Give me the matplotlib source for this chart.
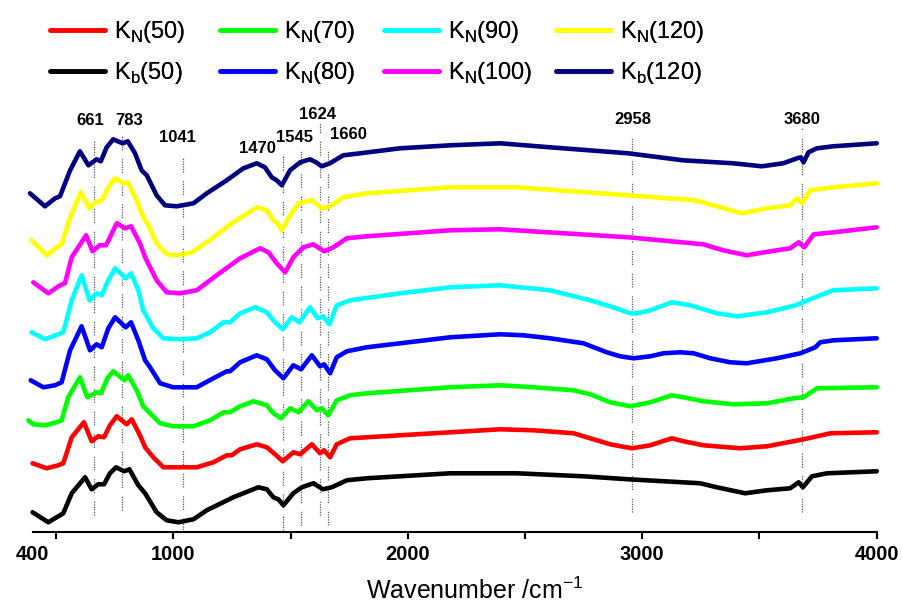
import matplotlib
matplotlib.use("Agg")
import matplotlib.pyplot as plt

plt.rcParams['font.family'] = ['Liberation Sans', 'DejaVu Sans']

# FTIR spectra, already stacked (a.u.), x in cm-1
kb120_x = [389, 453, 496, 517, 560, 602, 638, 673, 691, 716, 744, 784, 806, 837, 865, 887, 929, 965, 1015, 1086,
           1143, 1228, 1299, 1356, 1391, 1420, 1441, 1463, 1498, 1541, 1583, 1609, 1633, 1668, 1725, 1797, 1967, 2181,
           2394, 2607, 2940, 3174, 3388, 3510, 3601, 3660, 3676, 3688, 3709, 3745, 3814, 4000]
kb120_y = [33.9, 32.6, 33.4, 33.6, 36.2, 38.1, 36.7, 37.3, 37.1, 38.5, 39.3, 38.9, 39.1, 37.9, 36.2, 35.7, 33.7, 32.7,
           32.6, 32.9, 33.9, 35.2, 36.4, 36.9, 36.5, 35.5, 35.2, 34.7, 36.2, 37.0, 37.3, 37.0, 36.6, 36.9, 37.7, 37.9,
           38.4, 38.7, 38.9, 38.5, 37.9, 37.2, 36.9, 36.6, 36.9, 37.4, 37.5, 37.0, 38.0, 38.4, 38.6, 38.9]

kn120_x = [396, 460, 503, 524, 560, 606, 642, 666, 695, 716, 749, 787, 806, 844, 872, 894, 929, 972, 1015, 1079,
           1143, 1256, 1356, 1399, 1427, 1444, 1463, 1498, 1534, 1591, 1633, 1669, 1725, 1825, 2181, 2465, 2940, 3226,
           3318, 3425, 3532, 3631, 3660, 3681, 3716, 3814, 4000]
kn120_y = [29.2, 27.7, 28.5, 28.8, 31.5, 34.0, 32.4, 33.0, 33.2, 34.2, 35.4, 34.9, 35.0, 33.2, 31.5, 30.7, 28.9, 27.8,
           27.7, 28.0, 29.0, 31.0, 32.5, 32.2, 31.2, 30.9, 30.2, 31.7, 32.9, 33.2, 32.4, 32.6, 33.5, 33.9, 34.5, 34.5,
           33.7, 33.2, 32.6, 31.9, 32.4, 32.7, 33.4, 32.9, 34.2, 34.5, 34.9]

kn100_x = [403, 467, 517, 538, 567, 628, 656, 685, 713, 730, 759, 794, 820, 858, 880, 929, 972, 1029, 1100, 1185,
           1285, 1370, 1406, 1441, 1477, 1512, 1555, 1597, 1643, 1683, 1740, 1825, 2181, 2394, 2940, 3260, 3345, 3446,
           3546, 3631, 3667, 3691, 3731, 3816, 4000]
kn100_y = [25.0, 23.9, 24.7, 24.9, 27.5, 29.7, 28.1, 28.7, 28.7, 29.5, 30.9, 30.4, 30.6, 28.9, 27.5, 25.2, 24.0, 23.9,
           24.2, 25.7, 27.4, 28.4, 28.0, 26.9, 26.0, 27.5, 28.5, 28.8, 28.1, 28.5, 29.4, 29.6, 30.2, 30.3, 29.5, 28.8,
           28.2, 27.7, 28.1, 28.4, 29.0, 28.5, 29.8, 30.0, 30.5]

kn90_x = [396, 453, 510, 531, 567, 609, 643, 673, 695, 723, 752, 798, 820, 851, 872, 915, 958, 1029, 1100, 1157,
          1214, 1242, 1285, 1349, 1399, 1434, 1467, 1505, 1538, 1583, 1616, 1638, 1666, 1697, 1754, 1967, 2181, 2394,
          2607, 2778, 2863, 2949, 2977, 3034, 3126, 3204, 3318, 3404, 3532, 3654, 3727, 3814, 4000]
kn90_y = [20.0, 19.3, 19.8, 20.0, 23.2, 25.7, 23.2, 23.9, 23.7, 25.2, 26.4, 25.4, 25.9, 24.2, 22.2, 20.4, 19.4, 19.3,
          19.4, 20.0, 21.0, 21.0, 21.9, 22.5, 22.0, 21.0, 20.3, 21.5, 21.0, 22.5, 21.4, 21.6, 20.8, 22.7, 23.2, 23.9,
          24.5, 24.7, 24.2, 23.2, 22.6, 21.9, 21.9, 22.2, 23.0, 22.7, 21.9, 21.6, 22.0, 22.7, 23.4, 24.2, 24.4]

kn80_x = [392, 446, 496, 524, 560, 609, 645, 673, 695, 723, 752, 797, 820, 851, 880, 901, 944, 1000, 1100, 1171,
          1228, 1242, 1285, 1356, 1399, 1434, 1470, 1512, 1545, 1591, 1626, 1643, 1669, 1697, 1740, 1825, 2181, 2394,
          2493, 2607, 2749, 2849, 2906, 2963, 3034, 3090, 3162, 3219, 3290, 3375, 3446, 3574, 3674, 3738, 3759, 3816,
          4000]
kn80_y = [15.2, 14.5, 14.7, 15.0, 18.2, 20.6, 18.2, 18.8, 18.5, 20.4, 21.5, 20.5, 21.0, 19.2, 17.2, 16.5, 14.9, 14.5,
          14.5, 15.4, 16.1, 16.1, 17.0, 17.7, 17.3, 16.2, 15.4, 16.7, 16.3, 17.7, 16.6, 16.8, 15.9, 17.5, 18.1, 18.5,
          19.5, 19.8, 19.7, 19.4, 18.9, 18.0, 17.6, 17.4, 17.6, 17.9, 18.0, 17.9, 17.4, 17.0, 16.9, 17.4, 17.9, 18.5,
          19.0, 19.2, 19.4]

kn70_x = [382, 403, 453, 503, 524, 552, 602, 633, 673, 692, 719, 744, 791, 808, 844, 872, 901, 944, 1000, 1086,
          1157, 1214, 1242, 1285, 1342, 1399, 1427, 1460, 1498, 1534, 1576, 1612, 1633, 1661, 1697, 1754, 1825, 2181,
          2394, 2536, 2707, 2778, 2863, 2949, 3034, 3126, 3176, 3261, 3389, 3532, 3645, 3688, 3745, 4000]
kn70_y = [11.2, 10.8, 10.7, 11.0, 11.2, 13.5, 15.5, 13.5, 14.0, 13.9, 15.4, 16.1, 15.2, 15.7, 14.2, 12.6, 11.9, 10.9,
          10.6, 10.6, 11.2, 12.0, 12.0, 12.6, 13.1, 12.7, 11.9, 11.4, 12.4, 12.0, 13.1, 12.2, 12.4, 11.7, 13.2, 13.7,
          13.9, 14.5, 14.7, 14.5, 14.2, 13.8, 13.0, 12.6, 13.0, 13.7, 13.5, 13.1, 12.8, 12.9, 13.4, 13.5, 14.4, 14.5]

kn50_x = [400, 460, 510, 531, 567, 619, 652, 680, 705, 730, 759, 801, 823, 858, 880, 915, 958, 1015, 1100, 1171,
          1228, 1249, 1285, 1356, 1399, 1434, 1467, 1512, 1541, 1591, 1626, 1643, 1669, 1697, 1754, 1825, 2181, 2394,
          2536, 2707, 2778, 2863, 2956, 3034, 3126, 3176, 3261, 3418, 3532, 3688, 3802, 4000]
kn50_y = [6.9, 6.4, 6.7, 6.9, 9.5, 11.0, 9.1, 9.6, 9.5, 10.7, 11.6, 10.8, 11.3, 9.7, 8.5, 7.5, 6.5, 6.5, 6.5, 7.0,
          7.7, 7.7, 8.3, 8.8, 8.5, 7.8, 7.1, 8.0, 7.8, 8.8, 7.9, 8.2, 7.5, 8.8, 9.4, 9.5, 10.0, 10.3, 10.2, 9.9, 9.4,
          8.8, 8.4, 8.7, 9.4, 9.1, 8.7, 8.4, 8.6, 9.3, 9.9, 10.0]

kb50_x = [400, 467, 517, 531, 567, 624, 652, 680, 705, 730, 756, 791, 813, 851, 880, 929, 972, 1022, 1086, 1143,
          1256, 1363, 1399, 1427, 1448, 1470, 1512, 1548, 1598, 1638, 1676, 1740, 1825, 2181, 2465, 2749, 2941, 3247,
          3318, 3439, 3532, 3631, 3667, 3685, 3724, 3788, 4000]
kb50_y = [2.0, 1.0, 1.7, 1.9, 3.9, 5.5, 4.3, 4.8, 4.8, 5.9, 6.5, 6.1, 6.3, 4.7, 3.9, 2.0, 1.2, 1.0, 1.3, 2.2, 3.5,
          4.5, 4.3, 3.5, 3.3, 2.7, 3.9, 4.5, 4.9, 4.3, 4.5, 5.2, 5.4, 5.9, 5.9, 5.6, 5.3, 4.9, 4.5, 3.9, 4.2, 4.4, 5.0,
          4.5, 5.6, 5.9, 6.1]

# legend columns, each one a (top, bottom) pair
series = [
    (kn50_x, kn50_y, '#FF0000', r'K$_\mathregular{N}$(50)'),
    (kb50_x, kb50_y, '#000000', r'K$_\mathregular{b}$(50)'),
    (kn70_x, kn70_y, '#00FF00', r'K$_\mathregular{N}$(70)'),
    (kn80_x, kn80_y, '#0000FF', r'K$_\mathregular{N}$(80)'),
    (kn90_x, kn90_y, '#00FFFF', r'K$_\mathregular{N}$(90)'),
    (kn100_x, kn100_y, '#FF00FF', r'K$_\mathregular{N}$(100)'),
    (kn120_x, kn120_y, '#FFFF00', r'K$_\mathregular{N}$(120)'),
    (kb120_x, kb120_y, '#000080', r'K$_\mathregular{b}$(120)'),
]

peaks = [661, 783, 1041, 1470, 1545, 1624, 1660, 2958, 3680]
peak_labels = ['661', '783', '1041', '1470', '1545', '1624', '1660', '2958', '3680']

# label placement and dotted guide extent for each peak (x shift, label y, line top, line bottom)
label_dx = [-16, 28, -23, -113, -26, -7, 85, 0, 0]
label_y = [41.2, 41.2, 39.5, 38.4, 39.5, 41.8, 39.8, 41.3, 41.3]
line_top = [39.9, 40.5, 38.2, 38.4, 38.7, 40.9, 38.9, 40.2, 40.4]
line_bot = [1.7, 2.2, 0.0, 0.2, 0.7, 1.7, 0.7, 2.0, 2.0]

fig = plt.figure(figsize=(9.02, 6.05), dpi=100)
ax = fig.add_axes([0.0361, 0.1202, 0.9359, 0.7145])

for i, p in enumerate(peaks):
    ax.vlines(p, line_bot[i], line_top[i], colors='#555555', lw=0.9,
              linestyles=(0, (1, 1, 1, 1, 1, 1, 1, 1, 1, 1, 1, 7)), zorder=1)
    ax.text(p + label_dx[i], label_y[i], peak_labels[i], ha='center', va='center',
            fontsize=12, fontweight='bold')

lines = []
for x, y, c, lab in series:
    ln, = ax.plot(x, y, color=c, lw=3.3, label=lab, clip_on=False,
                  solid_joinstyle='round', solid_capstyle='round', zorder=2)
    lines.append(ln)

ax.set_xlim(400, 4000)
ax.set_ylim(0, 43.23)
ax.set_yticks([])
for s in ['top', 'right', 'left']:
    ax.spines[s].set_visible(False)
ax.spines['bottom'].set_linewidth(1.5)

ax.set_xticks([400, 1000, 2000, 3000, 4000])
ax.set_xticklabels(['400', '1000', '2000', '3000', '4000'], fontsize=14.5, fontweight='bold')
ax.set_xticks([500, 1500, 2500, 3500], minor=True)
ax.tick_params(axis='x', which='both', direction='out', length=5, width=1.5, pad=4)
ax.xaxis.get_major_ticks()[0].tick1line.set_visible(False)
ax.set_xlabel('Wavenumber /cm$^{\\mathregular{-1}}$', fontsize=18)
ax.xaxis.set_label_coords(0.524, -0.104)

# one small legend per column so each column sits where it should
col_x = [50, 220, 384, 556]
for k, cx in enumerate(col_x):
    pair = lines[2 * k:2 * k + 2]
    leg = fig.legend(handles=pair, labels=[l.get_label() for l in pair], loc='upper left',
                     bbox_to_anchor=(cx / 902, 1 - 19 / 605), frameon=False,
                     fontsize=17, handlelength=2.35, handletextpad=0.35,
                     labelspacing=0.65, borderpad=0, borderaxespad=0)
    fig.add_artist(leg)

fig.savefig('out.png', dpi=100)
